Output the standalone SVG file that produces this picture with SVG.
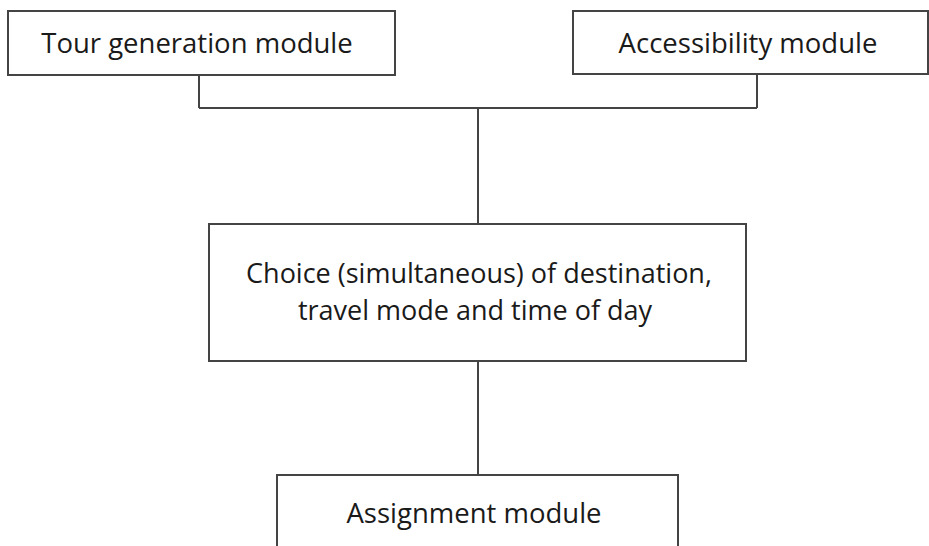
<svg xmlns="http://www.w3.org/2000/svg" width="929" height="546" viewBox="0 0 929 546">
<style>
.box{fill:#fff;stroke:#444;stroke-width:2}
.con{fill:none;stroke:#444;stroke-width:2}
text{font-family:"Open Sans","Noto Sans","DejaVu Sans",sans-serif;font-size:27.5px;fill:#1a1a1a;text-anchor:middle}
.t2{font-size:27px}
</style>
<rect width="929" height="546" fill="#fff"/>
<g id="connectors">
<path class="con" d="M199 75V108M757 74V108M199 108H757M478 108V224M478 361V475"/>
</g>
<g id="tour">
<rect class="box" x="8" y="11" width="387" height="64"/>
<text x="197" y="53">Tour generation module</text>
</g>
<g id="access">
<rect class="box" x="573" y="11" width="355" height="63"/>
<text x="748" y="53">Accessibility module</text>
</g>
<g id="choice">
<rect class="box" x="209" y="224" width="537" height="137"/>
<text class="t2" x="479" y="283">Choice (simultaneous) of destination,</text>
<text class="t2" x="475" y="320">travel mode and time of day</text>
</g>
<g id="assign">
<rect class="box" x="277" y="475" width="401" height="80"/>
<text x="474" y="523">Assignment module</text>
</g>
</svg>
